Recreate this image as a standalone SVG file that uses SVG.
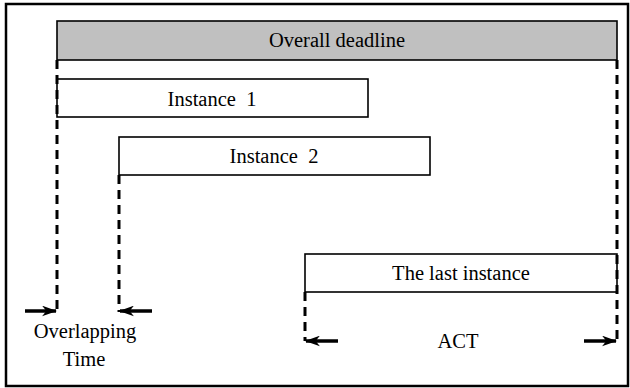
<svg xmlns="http://www.w3.org/2000/svg" width="630" height="388" viewBox="0 0 630 388">
<style>
.box{fill:#fff;stroke:#000;stroke-width:1.6}
.grey{fill:#c0c0c0;stroke:#000;stroke-width:1.6}
text{font-family:'Liberation Serif','Times New Roman','DejaVu Serif',serif;font-size:20.5px;fill:#000;text-anchor:middle}
.dash{stroke:#000;stroke-width:3;stroke-dasharray:9,6;fill:none}
.arr{stroke:#000;stroke-width:3.5;fill:none}
</style>
<defs>
<marker id="ah" viewBox="0 0 14 10" refX="13" refY="5" markerWidth="15" markerHeight="11" markerUnits="userSpaceOnUse" orient="auto">
<path d="M0,0 L14,5 L0,10 L4,5 Z" fill="#000"/>
</marker>
</defs>
<rect x="6" y="4" width="622" height="382" fill="#fff" stroke="#000" stroke-width="2.5"/>
<g id="overall">
<rect class="grey" x="57" y="21" width="560" height="39"/>
<text x="337" y="47" font-family="Liberation Serif, serif">Overall deadline</text>
</g>
<g id="instance1">
<rect class="box" x="57" y="79" width="311" height="38"/>
<text x="212" y="106" font-family="Liberation Serif, serif" xml:space="preserve">Instance  1</text>
</g>
<g id="instance2">
<rect class="box" x="119" y="137" width="311" height="38"/>
<text x="274" y="163" font-family="Liberation Serif, serif" xml:space="preserve">Instance  2</text>
</g>
<g id="last">
<rect class="box" x="305" y="254" width="312" height="38"/>
<text x="461" y="280" font-family="Liberation Serif, serif">The last instance</text>
</g>
<g id="connectors">
<line class="dash" x1="57" y1="60" x2="57" y2="312"/>
<line class="dash" x1="119" y1="175" x2="119" y2="312"/>
<line class="dash" x1="305" y1="292" x2="305" y2="341"/>
<line class="dash" x1="617" y1="60" x2="617" y2="341"/>
<line class="arr" x1="25" y1="311" x2="56" y2="311" marker-end="url(#ah)"/>
<line class="arr" x1="152" y1="311" x2="120" y2="311" marker-end="url(#ah)"/>
<line class="arr" x1="338" y1="341" x2="306" y2="341" marker-end="url(#ah)"/>
<line class="arr" x1="584" y1="341" x2="616" y2="341" marker-end="url(#ah)"/>
</g>
<g id="labels">
<text x="85" y="338" font-family="Liberation Serif, serif">Overlapping</text>
<text x="84" y="366" font-family="Liberation Serif, serif">Time</text>
<text x="458" y="348" font-family="Liberation Serif, serif">ACT</text>
</g>
</svg>
